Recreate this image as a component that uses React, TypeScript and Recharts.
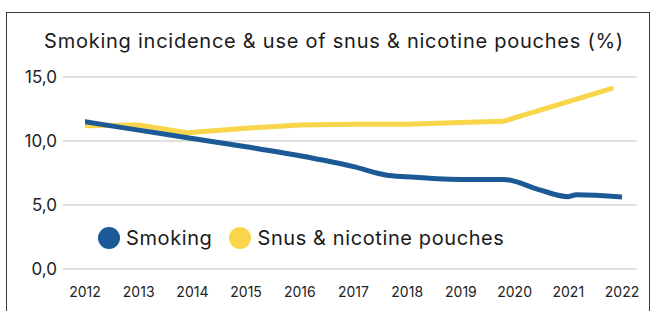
import { LineChart, Line, XAxis, YAxis, CartesianGrid } from 'recharts';

// smoking incidence (x is the year, some points fall between years)
const smokingYears = [2012, 2013, 2014, 2015, 2016, 2017, 2017.6, 2018, 2019, 2019.8, 2020.45, 2021.0, 2021.15, 2022.1];
const smokingValues = [11.5, 10.85, 10.2, 9.55, 8.85, 8.0, 7.35, 7.2, 7.0, 7.0, 6.2, 5.65, 5.8, 5.6];

// snus & nicotine pouches
const snusYears = [2012, 2013, 2013.9, 2015, 2016, 2017, 2018, 2019, 2019.8, 2021.8];
const snusValues = [11.2, 11.25, 10.65, 11.0, 11.25, 11.3, 11.3, 11.45, 11.55, 14.1];

const yearTicks = [2012, 2013, 2014, 2015, 2016, 2017, 2018, 2019, 2020, 2021, 2022];
const valueTicks = [0, 5, 10, 15];

const seriesNames = ['Smoking', 'Snus & nicotine pouches'];
const title = 'Smoking incidence & use of snus & nicotine pouches (%)';

const BLUE = '#1b5a96';
const YELLOW = '#f8d54a';
const FONT = 'Inter, "Noto Sans", sans-serif';

const smoking = smokingYears.map((year, i) => ({ year, value: smokingValues[i] }));
const snus = snusYears.map((year, i) => ({ year, value: snusValues[i] }));
const colors = [BLUE, YELLOW];

export default function App() {
  return (
    <div style={{ position: 'absolute', left: 0, top: 0, width: 656, height: 311, overflow: 'hidden', background: '#fff', fontFamily: FONT }}>
      <div style={{ position: 'absolute', left: 6, top: 12, width: 644, height: 400, border: '1.5px solid #3c3c3c', boxSizing: 'border-box' }} />
      <div style={{ position: 'absolute', left: 6, top: 29, width: 656, textAlign: 'center', fontSize: 20, lineHeight: '24px', letterSpacing: 0.75, color: '#1a1a1a' }}>
        {title}
      </div>

      <div style={{ position: 'absolute', left: 0, top: 0 }}>
        <LineChart width={656} height={311} margin={{ top: 77, right: 19, bottom: 0, left: 0 }}>
          <CartesianGrid vertical={false} stroke="#d6d6d6" strokeWidth={1.5} />
          <XAxis
            dataKey="year"
            type="number"
            domain={[2012, 2022]}
            allowDataOverflow
            ticks={yearTicks}
            padding={{ left: 22, right: 15 }}
            axisLine={false}
            tickLine={false}
            tickSize={6}
            tickMargin={12}
            height={42}
            tick={{ fontSize: 14, fill: '#222', fontFamily: FONT }}
          />
          <YAxis
            type="number"
            domain={[0, 15]}
            ticks={valueTicks}
            width={63}
            axisLine={false}
            tickLine={false}
            tickSize={4}
            tickMargin={2}
            tick={{ fontSize: 17, fill: '#222', fontFamily: FONT }}
            tickFormatter={(v: number) => v.toFixed(1).replace('.', ',')}
          />
          <Line data={snus} dataKey="value" type="linear" stroke={YELLOW} strokeWidth={5} dot={false} strokeLinecap="round" strokeLinejoin="round" isAnimationActive={false} />
          <Line data={smoking} dataKey="value" type="monotone" stroke={BLUE} strokeWidth={5} dot={false} strokeLinecap="round" strokeLinejoin="round" isAnimationActive={false} />
        </LineChart>
      </div>

      <div style={{ position: 'absolute', left: 98, top: 226, height: 24, display: 'flex', alignItems: 'center', fontSize: 20, lineHeight: '24px', letterSpacing: 0.6, color: '#1a1a1a' }}>
        {seriesNames.map((name, i) => (
          <div key={name} style={{ display: 'flex', alignItems: 'center', marginRight: 17 }}>
            <span style={{ display: 'inline-block', width: 22, height: 22, borderRadius: '50%', background: colors[i], marginRight: 6 }} />
            <span>{name}</span>
          </div>
        ))}
      </div>
    </div>
  );
}
